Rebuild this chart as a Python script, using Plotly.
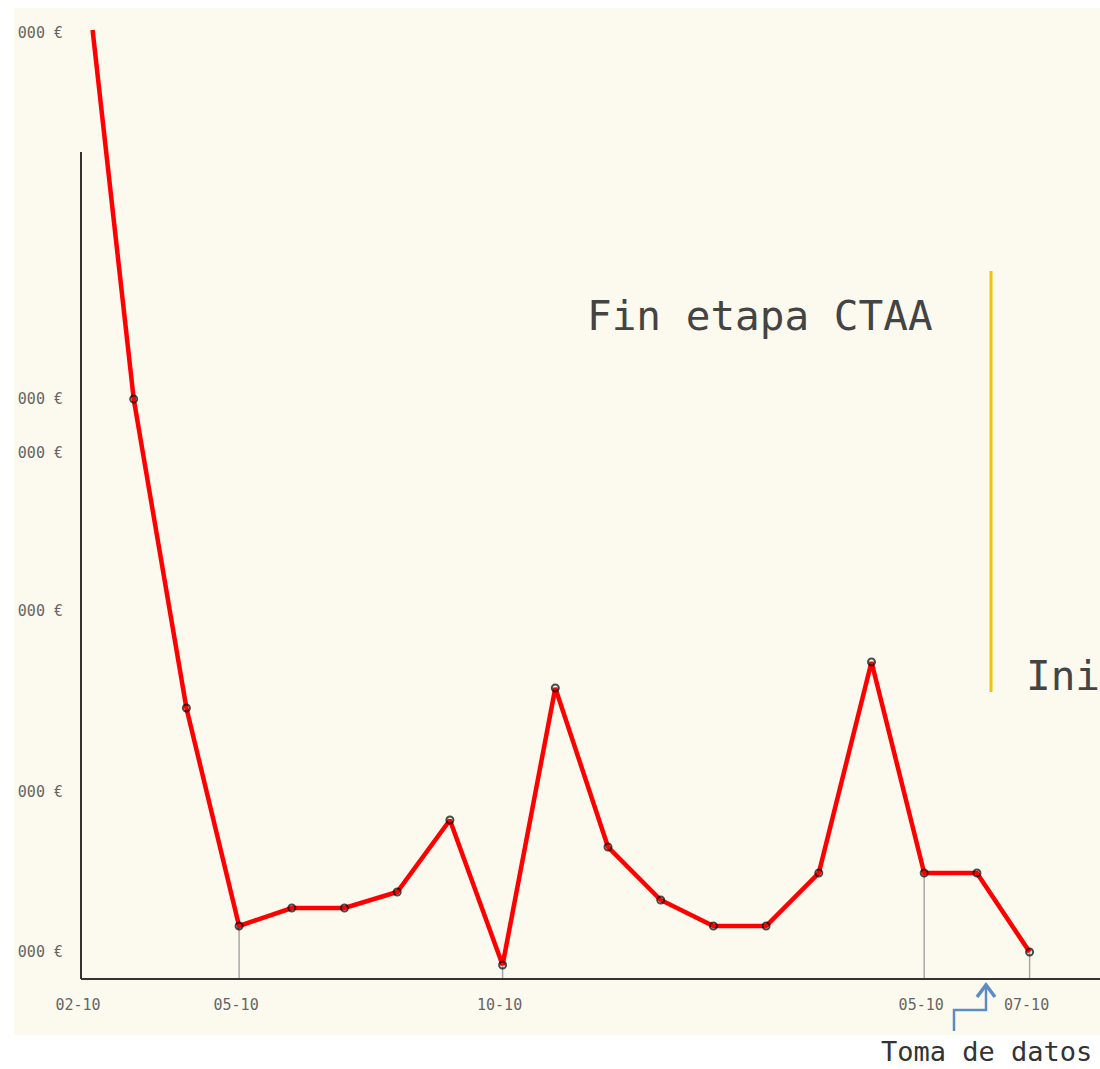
import plotly.graph_objects as go

# ---- data ----
x_pos = [0.22, 1, 2, 3, 4, 5, 6, 7, 8, 9, 10, 11, 12, 13, 14, 15, 16, 17, 18]
values = [948, 579, 270, 52, 70, 70, 86, 158, 13, 290, 131, 78, 52, 52, 105, 316, 105, 105, 26]
y_tick_vals = [945, 579, 525, 367, 186, 26]
y_tick_text = ["000 €"] * len(y_tick_vals)
x_tick_vals = [0, 3, 8, 16, 18]
x_tick_text = ["02-10", "05-10", "10-10", "05-10", "07-10"]
drop_idx = [3, 8, 16, 18]  # points with a vertical guide down to the axis

W, H = 1100, 1069
def px(x):
    return x / W
def py(y):
    return 1 - y / H

MONO = "DejaVu Sans Mono"

fig = go.Figure()

# vertical guide lines
gx, gy = [], []
for i in drop_idx:
    gx += [x_pos[i], x_pos[i], None]
    gy += [values[i], 0, None]
fig.add_trace(go.Scatter(x=gx, y=gy, mode="lines",
                         line=dict(color="#a8a8a8", width=1.5),
                         hoverinfo="skip", showlegend=False))

sizes = [0] + [7] * (len(values) - 1)
fig.add_trace(go.Scatter(x=x_pos, y=values, mode="lines+markers",
                         line=dict(color="#ff0000", width=4.5),
                         marker=dict(symbol="circle-open", size=sizes,
                                     color="#000000", line=dict(width=2, color="#000000")),
                         showlegend=False))

shapes = [
    # cream background
    dict(type="rect", xref="paper", yref="paper", x0=px(14), x1=px(1100), y0=py(1035), y1=py(8),
         fillcolor="#fcfaee", line=dict(width=0), layer="below"),
    # y axis line
    dict(type="line", xref="paper", yref="paper", x0=px(81), x1=px(81), y0=py(979), y1=py(152),
         line=dict(color="#333333", width=2)),
    # yellow separator
    dict(type="line", xref="paper", yref="paper", x0=px(991), x1=px(991), y0=py(692), y1=py(271),
         line=dict(color="#f5c400", width=3)),
    # blue elbow arrow
    dict(type="path", xref="paper", yref="paper",
         path=f"M {px(954)} {py(1031)} L {px(954)} {py(1010)} L {px(986)} {py(1010)} L {px(986)} {py(985)}",
         line=dict(color="#5b8cc6", width=2.5)),
    dict(type="path", xref="paper", yref="paper",
         path=f"M {px(977)} {py(997)} L {px(986)} {py(985)} L {px(995)} {py(997)}",
         line=dict(color="#5b8cc6", width=3.5)),
]

annotations = [
    dict(text="Fin etapa CTAA", xref="paper", yref="paper", x=px(585), y=py(316),
         xanchor="left", yanchor="middle", showarrow=False,
         font=dict(family=MONO, size=41, color="#444444")),
    dict(text="Ini", xref="paper", yref="paper", x=px(1024), y=py(676),
         xanchor="left", yanchor="middle", showarrow=False,
         font=dict(family=MONO, size=41, color="#444444")),
    dict(text="Toma de datos", xref="paper", yref="paper", x=px(879), y=py(1051),
         xanchor="left", yanchor="middle", showarrow=False,
         font=dict(family=MONO, size=27, color="#333333")),
]

fig.update_layout(
    width=W, height=H,
    margin=dict(l=0, r=0, t=0, b=0, autoexpand=False),
    paper_bgcolor="white",
    plot_bgcolor="rgba(0,0,0,0)",
    shapes=shapes,
    annotations=annotations,
    xaxis=dict(domain=[81 / W, 1], range=[0, (1100 - 81) / 52.7],
               automargin=False,
               showgrid=False, zeroline=False, showline=True,
               linecolor="#333333", linewidth=2,
               tickvals=x_tick_vals, ticktext=x_tick_text,
               ticklabelstandoff=12, ticklabelshift=-3,
               tickfont=dict(family=MONO, size=15, color="#666666")),
    yaxis=dict(domain=[(H - 978) / H, 1], range=[0, 978],
               automargin=False,
               showgrid=False, zeroline=False, showline=False,
               tickvals=y_tick_vals, ticktext=y_tick_text,
               ticklabelstandoff=17,
               tickfont=dict(family=MONO, size=15, color="#666666")),
)

fig.write_html("out.html", config={"displayModeBar": False},
               post_script="document.body.style.margin='0';")
